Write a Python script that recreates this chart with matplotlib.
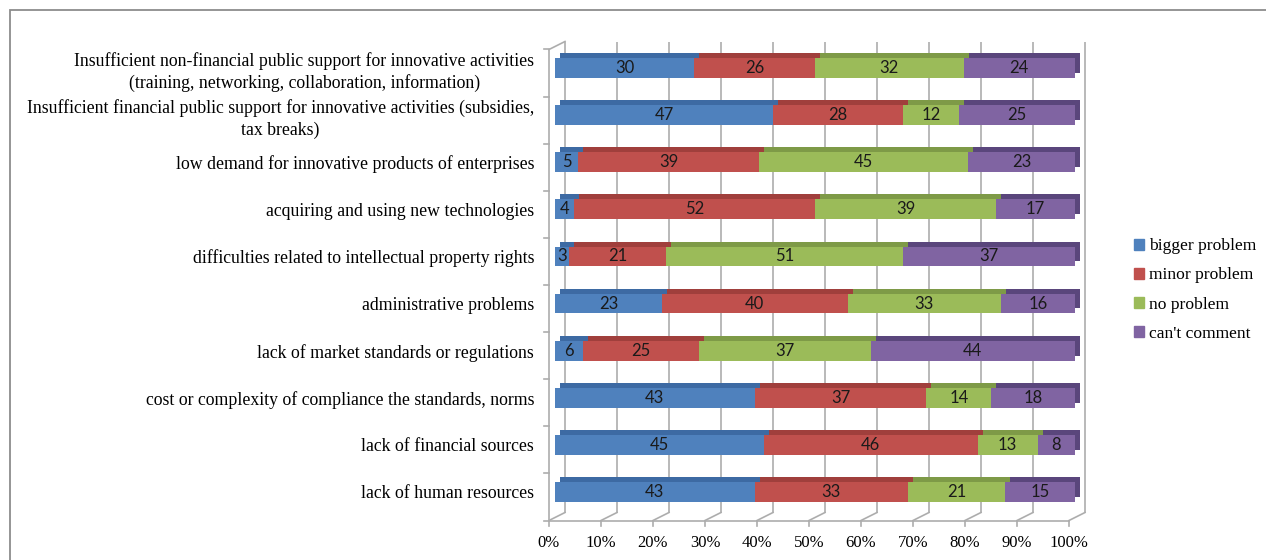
import matplotlib.pyplot as plt
import numpy as np
from matplotlib.lines import Line2D
from matplotlib.patches import Patch, Rectangle
from matplotlib.transforms import offset_copy, ScaledTranslation, IdentityTransform

categories = [
    'Insufficient non-financial public support for innovative activities\n(training, networking, collaboration, information)',
    'Insufficient financial public support for innovative activities (subsidies,\ntax breaks)',
    'low demand for innovative products of enterprises',
    'acquiring and using new technologies',
    'difficulties related to intellectual property rights',
    'administrative problems',
    'lack of market standards or regulations',
    'cost or complexity of compliance the standards, norms',
    'lack of financial sources',
    'lack of human resources',
]
bigger = [30, 47, 5, 4, 3, 23, 6, 43, 45, 43]
minor = [26, 28, 39, 52, 21, 40, 25, 37, 46, 33]
no_problem = [32, 12, 45, 39, 51, 33, 37, 14, 13, 21]
cant = [24, 25, 23, 17, 37, 16, 44, 18, 8, 15]
series_names = ['bigger problem', 'minor problem', 'no problem', "can't comment"]
x_ticks = list(range(0, 101, 10))

front_colors = ['#4F81BD', '#C0504D', '#9BBB59', '#8064A2']
top_colors = ['#3D6AA3', '#A03F3C', '#7E9A47', '#5A467C']
wall = '#ADADAD'
serif = 'Liberation Serif'

fig = plt.figure(figsize=(12.66, 5.6), dpi=100)
ax = fig.add_axes([555 / 1266, 44.5 / 560, 520 / 1266, 471 / 560])

data = np.array([bigger, minor, no_problem, cant], dtype=float)
shares = data / data.sum(axis=0) * 100
y = np.arange(len(categories))

# fake 3d: a darker copy shifted up/right gives the top and side faces
depth = offset_copy(ax.transData, fig=fig, x=5, y=5, units='dots')
left = np.zeros(len(categories))
for i in range(4):
    ax.barh(y, shares[i], left=left, height=0.42, color=top_colors[i],
            transform=depth, zorder=2, clip_on=False)
    bars = ax.barh(y, shares[i], left=left, height=0.42, color=front_colors[i], zorder=3)
    ax.bar_label(bars, labels=[str(int(v)) for v in data[i]], label_type='center',
                 fontfamily='Lato', fontsize=12, color='#1a1a1a', zorder=4)
    left += shares[i]

ax.set_xlim(0, 100)
ax.set_ylim(len(categories) - 0.5, -0.5)
for s in ax.spines.values():
    s.set_visible(False)

# walls and floor
back = offset_copy(ax.get_xaxis_transform(), fig=fig, x=10, y=3, units='dots')
front = offset_copy(ax.get_xaxis_transform(), fig=fig, x=-6, y=-5, units='dots')
ax.vlines(x_ticks, 0, 1, transform=back, colors=wall, lw=1.2, zorder=0, clip_on=False)


def px_line(p0, p1):
    fig.add_artist(Line2D([p0[0], p1[0]], [p0[1], p1[1]], transform=IdentityTransform(),
                          color=wall, lw=1.2))


for t in x_ticks:
    pb = back.transform((t, 0))
    pf = front.transform((t, 0))
    px_line(pb, pf)
    px_line(pf, (pf[0], pf[1] - 5))
px_line(front.transform((0, 0)), front.transform((100, 0)))
px_line(front.transform((0, 0)), front.transform((0, 1)))
px_line(front.transform((0, 1)), back.transform((0, 1)))
side = offset_copy(ax.transData, fig=fig, x=-6, y=-5, units='dots')
for b in np.arange(-0.5, len(categories), 1.0):
    p = side.transform((0, b))
    px_line(p, (p[0] - 5, p[1]))

ax.set_xticks(x_ticks, labels=[f'{t}%' for t in x_ticks])
ax.tick_params(axis='x', length=0, pad=14, labelsize=12)
for lab in ax.get_xticklabels():
    lab.set_fontfamily(serif)
    lab.set_transform(lab.get_transform() + ScaledTranslation(-0.06, 0, fig.dpi_scale_trans))

ax.set_yticks(y, labels=categories)
ax.tick_params(axis='y', length=0, pad=15, labelsize=12.8)
for lab in ax.get_yticklabels():
    lab.set_fontfamily(serif)
    lab.set_multialignment('center')
    lab.set_linespacing(1.3)

fig.legend(handles=[Patch(color=c, label=n) for c, n in zip(front_colors, series_names)],
           loc='center left', bbox_to_anchor=(1125 / 1266, 270 / 560), frameon=False,
           prop={'family': serif, 'size': 12.6}, handlelength=0.6, handleheight=0.6,
           handletextpad=0.25, labelspacing=0.75, borderpad=0)

fig.add_artist(Rectangle((10 / 1266, -0.1), 1.2, 1.1 - 10 / 560, transform=fig.transFigure,
                         fill=False, ec='#8C8C8C', lw=1.3))

fig.savefig('out.png', dpi=100)
